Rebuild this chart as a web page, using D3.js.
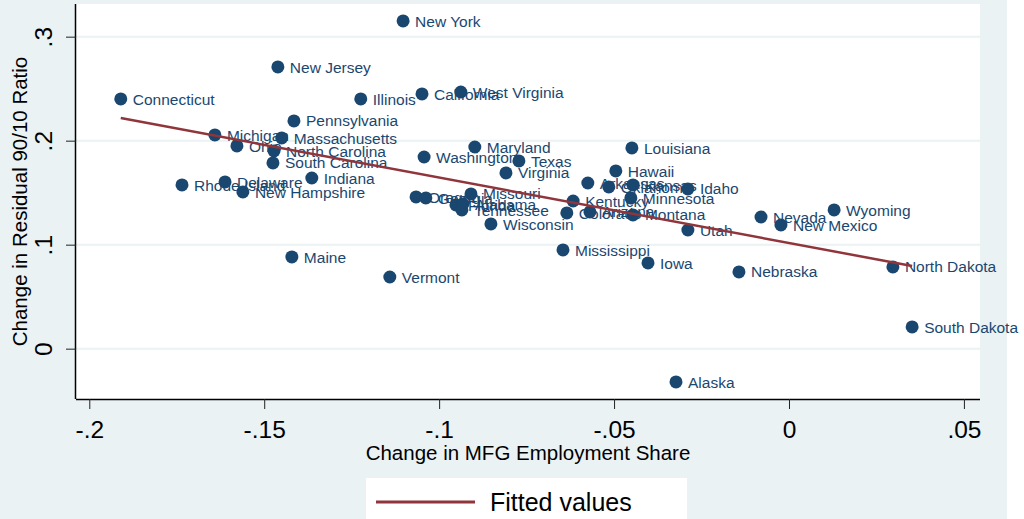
<!DOCTYPE html>
<html>
<head>
<meta charset="utf-8">
<script src="https://cdn.jsdelivr.net/npm/d3@7"></script>
<style>
  body { margin: 0; background: #fff; }
  svg { display: block; font-family: "Liberation Sans", Arial, sans-serif; }
</style>
</head>
<body>
<div id="chart"></div>
<script>
// states, change in MFG employment share (x) and change in residual 90/10 ratio (y)
var states = ["Connecticut", "New York", "New Jersey", "Illinois", "California", "West Virginia",
  "Pennsylvania", "Michigan", "Massachusetts", "Ohio", "North Carolina", "South Carolina",
  "Indiana", "Rhode Island", "Delaware", "New Hampshire", "Maine", "Vermont", "Maryland",
  "Washington", "Texas", "Virginia", "Louisiana", "Hawaii", "Arkansas", "Oklahoma", "Kansas",
  "Idaho", "Minnesota", "Kentucky", "Colorado", "Arizona", "Montana", "Missouri", "Oregon",
  "Georgia", "Florida", "Alabama", "Tennessee", "Wisconsin", "Mississippi", "Iowa", "Utah",
  "Nebraska", "Nevada", "New Mexico", "Wyoming", "North Dakota", "South Dakota", "Alaska"];
var mfgShare = [-0.1910, -0.1103, -0.1461, -0.1224, -0.1049, -0.0938,
  -0.1415, -0.1641, -0.1450, -0.1578, -0.1472, -0.1475,
  -0.1364, -0.1735, -0.1612, -0.1561, -0.1421, -0.1141, -0.0898,
  -0.1043, -0.0772, -0.0809, -0.0449, -0.0495, -0.0575, -0.0515, -0.0446,
  -0.0289, -0.0452, -0.0617, -0.0635, -0.0569, -0.0446, -0.0909, -0.1066,
  -0.1038, -0.0952, -0.0932, -0.0935, -0.0852, -0.0646, -0.0403, -0.0289,
  -0.0143, -0.0080, -0.0023, 0.0129, 0.0297, 0.0352, -0.0323];
var ratio9010 = [0.2401, 0.3151, 0.2709, 0.2401, 0.2449, 0.2468,
  0.2190, 0.2055, 0.2026, 0.1949, 0.1901, 0.1786,
  0.1641, 0.1574, 0.1603, 0.1507, 0.0882, 0.0689, 0.1939,
  0.1843, 0.1805, 0.1690, 0.1930, 0.1709, 0.1593, 0.1555, 0.1574,
  0.1536, 0.1449, 0.1420, 0.1305, 0.1315, 0.1286, 0.1488, 0.1459,
  0.1449, 0.1382, 0.1391, 0.1334, 0.1199, 0.0949, 0.0824, 0.1141,
  0.0738, 0.1266, 0.1189, 0.1334, 0.0786, 0.0209, -0.0320];

// fitted line end points
var fitX = [-0.1910, 0.0352];
var fitY = [0.2218, 0.0795];

var xTicks = [-0.2, -0.15, -0.1, -0.05, 0, 0.05];
var xTickLabels = ["-.2", "-.15", "-.1", "-.05", "0", ".05"];
var yTicks = [0, 0.1, 0.2, 0.3];
var yTickLabels = ["0", ".1", ".2", ".3"];

(function () {
  var width = 1024, height = 519;
  var navy = "#1a476f", maroon = "#90353b", bg = "#eaf2f3";
  var pLeft = 76, pRight = 980, pTop = 4, pBottom = 399;

  var svg = d3.select("#chart").append("svg")
    .attr("width", width)
    .attr("height", height);

  svg.append("rect").attr("width", 1007).attr("height", height).attr("fill", bg);
  svg.append("rect")
    .attr("x", pLeft).attr("y", pTop)
    .attr("width", pRight - pLeft).attr("height", pBottom - pTop)
    .attr("fill", "#fff");

  var x = d3.scaleLinear().domain([-0.2038, 0.0546]).range([pLeft, pRight]);
  var y = d3.scaleLinear().domain([-0.0484, 0.3314]).range([pBottom, pTop]);

  // grid lines
  svg.append("g").selectAll("line")
    .data(yTicks)
    .enter().append("line")
    .attr("x1", pLeft).attr("x2", pRight)
    .attr("y1", d => y(d)).attr("y2", d => y(d))
    .attr("stroke", bg).attr("stroke-width", 2);

  // x axis
  var xAxis = svg.append("g")
    .attr("transform", "translate(0," + pBottom + ")")
    .call(d3.axisBottom(x).tickValues(xTicks).tickFormat((d, i) => xTickLabels[i])
      .tickSize(10).tickSizeOuter(0));
  xAxis.select(".domain").attr("stroke", "#000").attr("stroke-width", 1.5)
    .attr("d", "M" + pLeft + ",0.5H" + pRight);
  xAxis.selectAll(".tick line").attr("stroke", "#222").attr("stroke-width", 1);
  xAxis.selectAll(".tick text").attr("fill", "#000").attr("font-size", 24.5)
    .attr("font-family", "Liberation Sans, Arial, sans-serif")
    .attr("y", 39).attr("dy", null);

  // y axis
  var yAxis = svg.append("g")
    .attr("transform", "translate(" + pLeft + ",0)")
    .call(d3.axisLeft(y).tickValues(yTicks).tickFormat((d, i) => yTickLabels[i])
      .tickSize(10).tickSizeOuter(0));
  yAxis.select(".domain").attr("stroke", "#000").attr("stroke-width", 1.5)
    .attr("d", "M-0.5," + pTop + "V" + pBottom);
  yAxis.selectAll(".tick line").attr("stroke", "#222").attr("stroke-width", 1);
  yAxis.selectAll(".tick text")
    .attr("fill", "#000").attr("font-size", 24.5)
    .attr("font-family", "Liberation Sans, Arial, sans-serif")
    .attr("x", null).attr("dy", null)
    .attr("text-anchor", "middle")
    .attr("transform", "translate(-24,0) rotate(-90)");

  // axis titles
  svg.append("text")
    .attr("x", (pLeft + pRight) / 2).attr("y", 460)
    .attr("text-anchor", "middle").attr("font-size", 20.5)
    .text("Change in MFG Employment Share");
  svg.append("text")
    .attr("transform", "translate(27," + ((pTop + pBottom) / 2) + ") rotate(-90)")
    .attr("text-anchor", "middle").attr("font-size", 20.5)
    .text("Change in Residual 90/10 Ratio");

  // points
  var pts = states.map((s, i) => ({ name: s, x: mfgShare[i], y: ratio9010[i] }));
  var g = svg.append("g");
  g.selectAll("circle")
    .data(pts)
    .enter().append("circle")
    .attr("cx", d => x(d.x)).attr("cy", d => y(d.y))
    .attr("r", 6.5).attr("fill", navy);
  g.selectAll("text")
    .data(pts)
    .enter().append("text")
    .attr("x", d => x(d.x) + 12).attr("y", d => y(d.y))
    .attr("dy", "0.36em")
    .attr("font-size", 15.5).attr("fill", navy)
    .text(d => d.name);

  // fitted line
  var line = d3.line().x(d => x(d[0])).y(d => y(d[1]));
  svg.append("path")
    .datum(fitX.map((v, i) => [v, fitY[i]]))
    .attr("d", line)
    .attr("fill", "none").attr("stroke", maroon).attr("stroke-width", 2.5);

  // legend
  svg.append("rect")
    .attr("x", 366).attr("y", 478).attr("width", 321).attr("height", 50)
    .attr("fill", "#fff");
  svg.append("line")
    .attr("x1", 376).attr("x2", 475).attr("y1", 502).attr("y2", 502)
    .attr("stroke", maroon).attr("stroke-width", 3);
  svg.append("text")
    .attr("x", 490).attr("y", 511).attr("font-size", 25).attr("fill", "#000")
    .text("Fitted values");
})();
</script>
</body>
</html>
